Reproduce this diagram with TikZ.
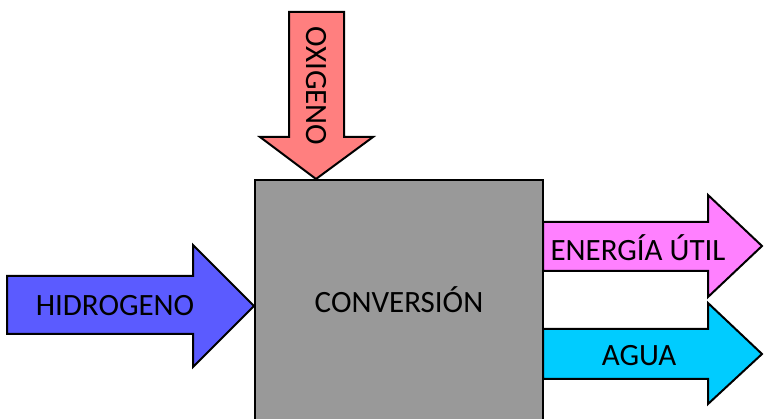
\documentclass[tikz,border=0pt]{standalone}
\usepackage{fontspec}
\setmainfont{Carlito}
\definecolor{hcol}{HTML}{5B5BFF}
\definecolor{ocol}{HTML}{FF7F7F}
\definecolor{ecol}{HTML}{FF80FF}
\definecolor{acol}{HTML}{00CCFF}
\definecolor{bcol}{HTML}{999999}
\begin{document}
\begin{tikzpicture}[x=1pt,y=-1pt,
  shape outline/.style={draw=black,line width=2pt,line join=miter},
  lbl/.style={inner sep=0pt,font=\fontsize{31}{36}\selectfont}]
\useasboundingbox (0,0) rectangle (764,419);
\clip (0,0) rectangle (764,419);
% central conversion block
\draw[shape outline,fill=bcol] (255,180) rectangle (543,430);
\node[lbl] (conv) at (399,300) {CONVERSIÓN};
% oxygen inlet, pointing down
\draw[shape outline,fill=ocol] (289,12) -- (344,12) -- (344,137) -- (373,137)
  -- (316,179) -- (260,137) -- (289,137) -- cycle;
\node[lbl,rotate=-90] (oxi) at (316,86) {OXIGENO};
% hydrogen inlet
\draw[shape outline,fill=hcol] (7,276) -- (193,276) -- (193,245) -- (254,306)
  -- (193,367) -- (193,334) -- (7,334) -- cycle;
\node[lbl] (hid) at (115,306) {HIDROGENO};
% useful energy outlet
\draw[shape outline,fill=ecol] (543,222) -- (708,222) -- (708,195) -- (762,246)
  -- (708,297) -- (708,271) -- (543,271) -- cycle;
\node[lbl] (ene) at (638,248) {ENERGÍA ÚTIL};
% water outlet
\draw[shape outline,fill=acol] (543,329) -- (708,329) -- (708,303) -- (762,354)
  -- (708,404) -- (708,379) -- (543,379) -- cycle;
\node[lbl] (agu) at (639,356) {AGUA};
\end{tikzpicture}
\end{document}
